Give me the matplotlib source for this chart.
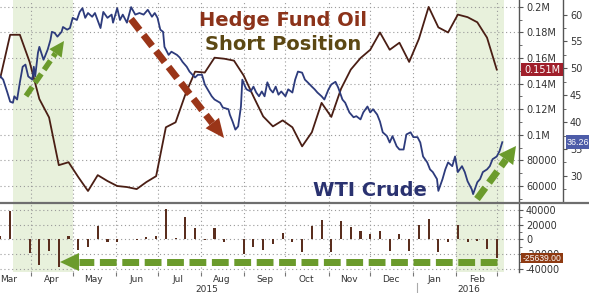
import datetime as dt
import numpy as np
import matplotlib
matplotlib.use("Agg")
import matplotlib.pyplot as plt
import matplotlib.dates as mdates
from matplotlib.patches import Polygon, Rectangle

# ---- data ----
start = dt.date(2015, 3, 10)

# hedge fund short position, weekly (thousands of contracts)
hf_short = [145, 178.2, 178.2, 157, 128, 113.6, 76.3, 78.6, 67.0, 56.1,
            68.5, 63.9, 60.0, 59.2, 57.6, 63.1, 67.7, 105.9, 109.8, 131.5,
            149.4, 148.7, 160.3, 159.5, 158.0, 146.3, 130.0, 114.4, 106.6, 111.3,
            105.9, 91, 102, 125, 114, 136, 151, 160, 166.5, 180,
            166.5, 172, 157, 175, 200, 184, 180, 194, 192, 188,
            176, 151.0]

# weekly change in the short position (thousands)
hf_change = [5, 38, 0, -18, -34, -16, -37, 5, -14, -10,
             18, -3, -4, 0, -1, 3, 5, 41, 2, 30,
             16, -1, 15, -4, 0, -20, -10, -14, -6, 9,
             -3, -17, 18, 26, -17, 25, 17, 11, 8, 11,
             -16, 7, -16, 19, 28, -17, -4, 19, -3, -2,
             -13, -25.639]

# WTI crude: days after start, price
wti_day = [0, 2, 5, 7, 9, 10, 12, 14, 16, 18,
           20, 23, 24, 25, 27, 28, 31, 32, 34, 36,
           37, 39, 41, 44, 45, 48, 50, 52, 55, 57,
           59, 61, 63, 66, 68, 72, 74, 77, 80, 81,
           84, 86, 88, 91, 94, 97, 100, 103, 106, 109,
           111, 113, 115, 117, 118, 121, 123, 127, 129, 131,
           134, 136, 140, 142, 145, 147, 149, 152, 154, 158,
           160, 164, 165, 167, 169, 171, 173, 174, 176, 177,
           180, 182, 184, 186, 188, 190, 192, 194, 196, 198,
           200, 202, 205, 207, 210, 212, 214, 217, 219, 221,
           224, 226, 228, 231, 233, 236, 238, 241, 243, 246,
           248, 251, 254, 256, 259, 261, 264, 266, 268, 271,
           273, 275, 278, 280, 282, 285, 287, 290, 292, 295,
           297, 300, 302, 304, 307, 309, 311, 314, 315, 318,
           320, 322, 325, 327, 329, 332, 334, 336, 339, 340,
           343, 345, 347, 350, 352, 354, 357, 359, 361]
wti_price = [48.5, 47.9, 45.5, 43.8, 43.6, 44.8, 44.2, 47.4, 50.3, 50.7,
             48.5, 47.9, 50.3, 48.5, 52.9, 54.0, 51.6, 52.2, 53.5, 55.3,
             56.8, 56.6, 55.9, 56.8, 57.7, 57.2, 57.5, 59.4, 59.0, 60.5,
             61.2, 59.4, 60.3, 59.6, 60.3, 57.5, 60.5, 59.4, 60.0, 58.5,
             61.2, 59.0, 60.0, 58.5, 61.4, 60.0, 60.3, 60.0, 60.9, 59.6,
             60.3, 59.4, 57.2, 56.8, 54.0, 52.5, 53.1, 52.5, 52.0, 51.2,
             50.3, 49.4, 48.3, 48.8, 48.8, 47.0, 46.1, 44.8, 44.2, 43.6,
             42.7, 42.4, 41.4, 40.1, 38.6, 39.2, 42.9, 47.9, 46.6, 46.1,
             45.7, 46.6, 45.5, 44.8, 45.7, 44.8, 47.4, 46.1, 45.5, 46.6,
             45.1, 45.7, 44.8, 46.1, 45.5, 47.9, 49.4, 49.2, 47.9, 47.4,
             46.6, 46.1, 45.5, 44.8, 44.2, 46.1, 47.0, 47.5, 46.4, 44.2,
             43.6, 41.8, 40.9, 41.1, 40.5, 41.8, 42.9, 41.8, 42.4, 41.4,
             40.1, 38.1, 37.4, 36.2, 37.4, 35.5, 34.9, 34.9, 37.7, 38.1,
             37.2, 37.2, 36.2, 33.6, 32.5, 31.2, 30.7, 29.4, 27.2, 29.4,
             31.2, 32.5, 31.8, 33.6, 30.7, 31.8, 30.7, 29.0, 27.5, 26.6,
             28.8, 29.4, 30.7, 31.2, 31.8, 33.1, 33.6, 34.6, 36.26]

hf_ticks = [60000, 80000, 100000, 120000, 140000, 160000, 180000, 200000]
hf_labels = ["60000", "80000", "0.1M", "0.12M", "0.14M", "0.16M", "0.18M", "0.2M"]
wti_ticks = [30, 35, 40, 45, 50, 55, 60]
chg_ticks = [-40000, -20000, 0, 20000, 40000]
month_labels = ["Mar", "Apr", "May", "Jun", "Jul", "Aug", "Sep",
                "Oct", "Nov", "Dec", "Jan", "Feb"]
shade_spans = [(dt.date(2015, 3, 19), dt.date(2015, 5, 1)),
               (dt.date(2016, 2, 1), dt.date(2016, 3, 6))]

week_dates = [start + dt.timedelta(days=7 * i) for i in range(len(hf_short))]
wti_dates = [start + dt.timedelta(days=d) for d in wti_day]

# ---- figure ----
W, H = 589, 293
fig = plt.figure(figsize=(W / 100, H / 100), dpi=100)


def px_rect(x0, y0, x1, y1):
    return [x0 / W, 1 - y1 / H, (x1 - x0) / W, (y1 - y0) / H]


BROWN = "#4a1e14"
NAVY = "#2d3b7c"
GRID = dict(color="#9a9a9a", lw=0.8, ls=(0, (1, 2.5)))
TXT = "#333333"

ax = fig.add_axes(px_rect(0, 0, 519, 202))
axb = fig.add_axes(px_rect(0, 203, 519, 272), sharex=ax)
ax2 = ax.twinx()

x0 = mdates.date2num(start) - 0.3
ax.set_xlim(x0, x0 + 373.3)

for a in (ax, axb):
    for d0, d1 in shade_spans:
        a.axvspan(d0, d1, color="#e8f1dc", lw=0, zorder=0)

# top panel lines
ax.plot(week_dates, [v * 1000 for v in hf_short], color=BROWN, lw=1.3, zorder=3)
ax2.plot(wti_dates, wti_price, color=NAVY, lw=1.3, zorder=3)

ax.set_ylim(47500, 205400)
ax2.set_ylim(25.13, 62.72)

ax.yaxis.tick_right()
ax.set_yticks(hf_ticks, hf_labels)
ax.set_yticks(np.arange(50000, 210000, 10000), minor=True)
ax.tick_params(axis="y", which="both", direction="out", length=3, pad=2,
               labelsize=7, colors="#555", labelcolor=TXT)
ax.tick_params(axis="y", which="minor", length=2)
ax.grid(axis="y", which="major", **GRID)
ax.grid(axis="x", which="major", **GRID)

ax2.set_yticks(wti_ticks)
ax2.set_yticks(np.arange(27.5, 62.5, 5), minor=True)
ax2.spines["right"].set_position(("outward", 44 * 0.72))
ax2.tick_params(axis="y", which="both", direction="out", length=3, pad=2,
                labelsize=7, colors="#555", labelcolor=TXT)
ax2.tick_params(axis="y", which="minor", length=2)

for a in (ax, ax2, axb):
    for s in ("top", "left", "bottom"):
        a.spines[s].set_visible(False)
    a.spines["right"].set_color("#555")
    a.spines["right"].set_linewidth(1.0)

# x axis: ticks at month starts, labels mid-month
ax.xaxis.set_major_locator(mdates.MonthLocator())
label_pos = [mdates.date2num(dt.date(2015 + (m + 2) // 12, (m + 2) % 12 + 1, 16))
             for m in range(len(month_labels))]
axb.xaxis.set_minor_locator(matplotlib.ticker.FixedLocator(label_pos))
axb.xaxis.set_minor_formatter(matplotlib.ticker.FixedFormatter(month_labels))
axb.xaxis.set_major_formatter(matplotlib.ticker.NullFormatter())
ax.tick_params(axis="x", which="both", length=0, labelbottom=False)
axb.tick_params(axis="x", which="major", length=3, color="#777", direction="out")
axb.tick_params(axis="x", which="minor", length=0, labelsize=6.5, pad=2,
                labelcolor=TXT)

# bottom panel bars
axb.bar(week_dates, [v * 1000 for v in hf_change], width=1.5,
        color="#5a2e1e", zorder=3)
axb.set_ylim(-44100, 49500)
axb.yaxis.tick_right()
axb.set_yticks(chg_ticks, [str(v) for v in chg_ticks])
axb.set_yticks(np.arange(-40000, 50000, 10000), minor=True)
axb.tick_params(axis="y", which="both", direction="out", length=3, pad=2,
                labelsize=7, colors="#555", labelcolor=TXT)
axb.tick_params(axis="y", which="minor", length=2)
axb.grid(axis="y", which="major", **GRID)
axb.grid(axis="x", which="major", **GRID)

# ---- overlay in pixel coords for annotations ----
ov = fig.add_axes([0, 0, 1, 1], zorder=10)
ov.set_xlim(0, W)
ov.set_ylim(H, 0)
ov.axis("off")
ov.patch.set_alpha(0)

fig.canvas.draw()


def ypix(a, v):
    return H - a.transData.transform((0, v))[1]


# panel separator
ov.plot([0, W], [202.5, 202.5], color="#6e6e6e", lw=1.6)

# years
ov.text(207, 289.5, "2015", ha="center", va="center", fontsize=6.5, color=TXT)
ov.text(469, 289.5, "2016", ha="center", va="center", fontsize=6.5, color=TXT)
ov.plot([417, 417], [283, 293], color="#aaaaaa", lw=0.8)

# titles
ov.text(283, 21, "Hedge Fund Oil", ha="center", va="center", fontsize=14,
        weight="bold", color="#8c331a")
ov.text(283, 45, "Short Position", ha="center", va="center", fontsize=14,
        weight="bold", color="#5c4814")
ov.text(370, 190, "WTI Crude", ha="center", va="center", fontsize=14,
        weight="bold", color="#2a3270")


def dashed_arrow(p0, p1, color, lw_px, dash, head_len, head_w):
    p0, p1 = np.array(p0, float), np.array(p1, float)
    u = (p1 - p0) / np.linalg.norm(p1 - p0)
    base = p1 - u * head_len
    perp = np.array([-u[1], u[0]])
    ov.plot([p0[0], base[0]], [p0[1], base[1]], color=color, lw=lw_px * 0.72,
            ls=(0, dash), solid_capstyle="butt", dash_capstyle="butt")
    ov.add_patch(Polygon([p1, base + perp * head_w / 2, base - perp * head_w / 2],
                         closed=True, color=color, lw=0))


GREEN = "#6b9b2c"
dashed_arrow((26, 96), (64, 41), GREEN, 5.5, (2.0, 0.9), 15, 15)
dashed_arrow((131, 19), (224, 138), "#9a3518", 7, (2.0, 0.9), 19, 17)
dashed_arrow((477, 199), (516, 146), GREEN, 7, (2.0, 0.9), 17, 18)
dashed_arrow((497, 262), (60, 262), GREEN, 7, (2.4, 0.8), 19, 18)

# value boxes
y151 = ypix(ax, 151000)
ov.add_patch(Rectangle((521, y151 - 6.5), 42, 13, color="#a01f2b", lw=0))
ov.text(542, y151, "0.151M", ha="center", va="center", fontsize=7, color="white")

y36 = ypix(ax2, wti_price[-1])
ov.add_patch(Rectangle((566, y36 - 7), 30, 14, color="#4d5ca8", lw=0))
ov.text(566.5, y36, "%.2f" % wti_price[-1], ha="left", va="center", fontsize=6.4,
        family="Liberation Sans", color="white")

yneg = ypix(axb, hf_change[-1] * 1000)
ov.add_patch(Rectangle((521, yneg - 5), 42, 10, color="#8e3a12", lw=0))
ov.text(542, yneg, "%.2f" % (hf_change[-1] * 1000), ha="center", va="center",
        fontsize=6.2, family="Liberation Sans", color="white")

fig.savefig("out.png", dpi=100)
